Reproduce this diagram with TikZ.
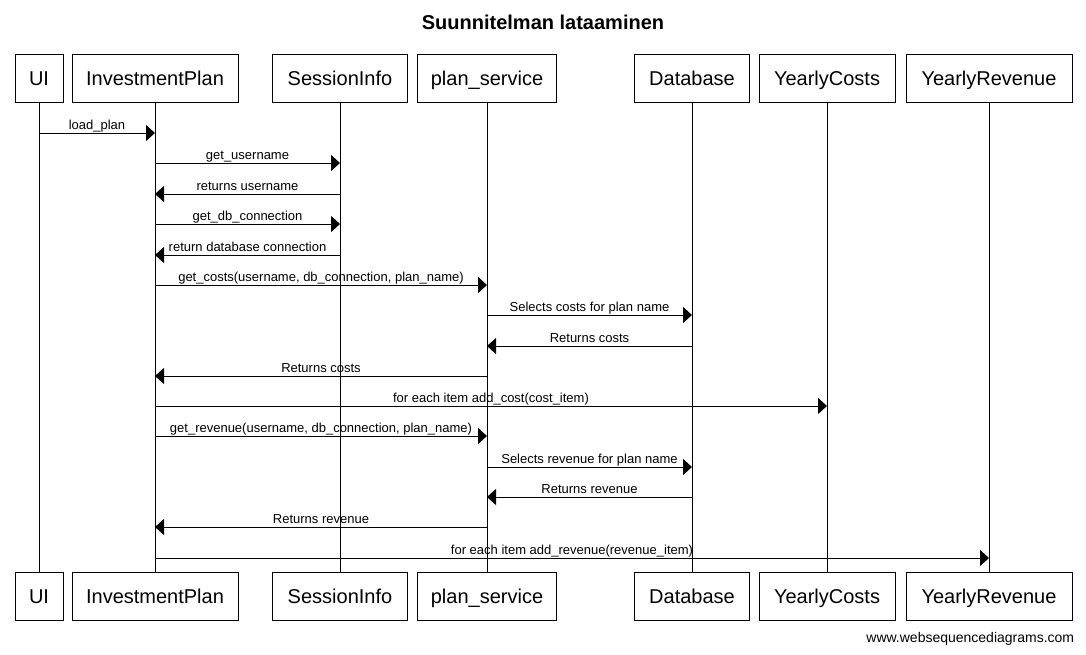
\documentclass[tikz,border=0pt]{standalone}
\usepackage{fontspec}
\setmainfont{Liberation Sans}
\usetikzlibrary{arrows.meta,positioning}

\begin{document}
\begin{tikzpicture}[x=1pt,y=-1pt,line width=1pt,
  actor/.style={draw,fill=white,minimum height=48pt,inner sep=0pt,
  text height=18pt,text depth=4pt,font=\fontsize{20}{24}\selectfont},
  msg/.style={-{Triangle[length=9pt,width=16pt]}},
  lbl/.style={above,inner sep=0pt,text height=10pt,text depth=3pt,
  font=\fontsize{13}{15}\selectfont}]
\useasboundingbox (0,0) rectangle (1086,654);
\node[font=\bfseries\fontsize{20}{24}\selectfont] (title) at (543,22) {Suunnitelman lataaminen};
% participants, top and bottom
\foreach \n/\x/\w/\t in {ui/39/48/UI, ip/155/166/InvestmentPlan, si/340/135/SessionInfo,
  ps/487/139/plan\_service, db/692/115/Database, yc/827/136/YearlyCosts,
  yr/989/166/YearlyRevenue}{
  \node[actor,minimum width=\w pt] (\n) at (\x,78) {\t};
  \node[actor,minimum width=\w pt] (\n-b) at (\x,596) {\t};
  \draw (\n.south) -- (\n-b.north);
}
% messages
\foreach \y/\a/\b/\t in {133/ui/ip/load\_plan, 163/ip/si/get\_username,
  194/si/ip/returns username, 224/ip/si/get\_db\_connection,
  255/si/ip/return database connection,
  285/ip/ps/{get\_costs(username, db\_connection, plan\_name)},
  315/ps/db/Selects costs for plan name, 346/db/ps/Returns costs,
  376/ps/ip/Returns costs, 406/ip/yc/for each item add\_cost(cost\_item),
  436/ip/ps/{get\_revenue(username, db\_connection, plan\_name)},
  467/ps/db/Selects revenue for plan name, 497/db/ps/Returns revenue,
  527/ps/ip/Returns revenue, 558/ip/yr/for each item add\_revenue(revenue\_item)}{
  \draw[msg] (\a |- 0,\y) -- (\b |- 0,\y) node[lbl,midway] {\t};
}
\node[anchor=east,font=\fontsize{14}{16}\selectfont] (wsd) at (1078,639) {www.websequencediagrams.com};
\end{tikzpicture}
\end{document}
